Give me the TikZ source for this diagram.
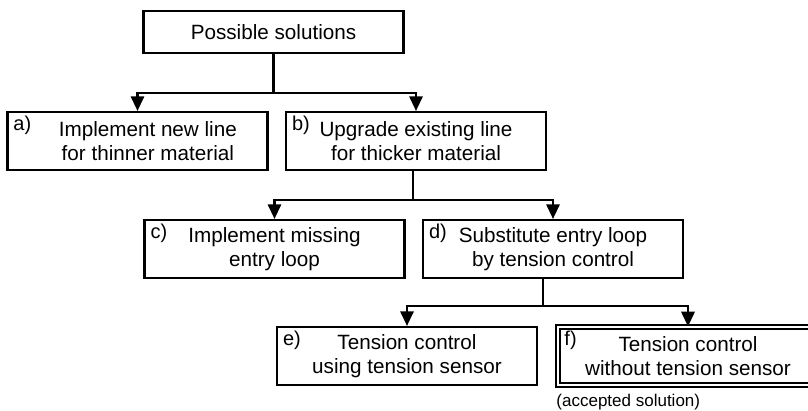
\documentclass[tikz,border=0pt]{standalone}
\usepackage{fontspec}
\setmainfont{Liberation Sans}
\usetikzlibrary{arrows.meta}

\begin{document}
\begin{tikzpicture}[x=0.75pt,y=-0.75pt,line width=1.6pt,>={Triangle[width=10pt,length=11pt]},
	box/.style={draw,minimum width=195pt,minimum height=43.5pt,inner sep=0pt,align=center,font=\fontsize{15.5}{17.5}\selectfont},
	tag/.style={anchor=north west,inner sep=0pt,font=\fontsize{15}{17}\selectfont},
	accepted/.style={double,line width=0.9pt,double distance=2.2pt}]
	\useasboundingbox (0,0) rectangle (808,411);
	% the tree of solutions
	\node[box,minimum height=31.5pt] (top) at (273.5,32) {Possible solutions};
	\node[box] (a) at (137.5,141) {\quad Implement new line\\\quad for thinner material};
	\node[box] (b) at (416,141) {Upgrade existing line\\for thicker material};
	\node[box] (c) at (274.5,249) {Implement missing\\entry loop};
	\node[box] (d) at (553,249) {Substitute entry loop\\by tension control};
	\node[box] (e) at (407,356) {Tension control\\using tension sensor};
	\node[box,accepted] (f) at (688,356) {Tension control\\without tension sensor};
	% letters in the corners
	\foreach \n in {a,b,c,d,e,f}
		\node[tag] at ([shift={(6,4)}]\n.north west) {\n)};
	\node[tag,font=\fontsize{12.75}{15}\selectfont] (note) at ([shift={(-2,8)}]f.south west) {(accepted solution)};
	% branches
	\draw (top.south) -- ++(0,39) coordinate (bus1);
	\draw[->] (bus1) -| (a.north);
	\draw[->] (bus1) -| (b.north);
	\draw ([xshift=-2.25pt]b.south) -- ++(0,29) coordinate (bus2);
	\draw[->] (bus2) -| (c.north);
	\draw[->] (bus2) -| (d.north);
	\draw ([xshift=-7.5pt]d.south) -- ++(0,27) coordinate (bus3);
	\draw[->] (bus3) -| (e.north);
	\draw[->] (bus3) -| (f.north);
\end{tikzpicture}
\end{document}
